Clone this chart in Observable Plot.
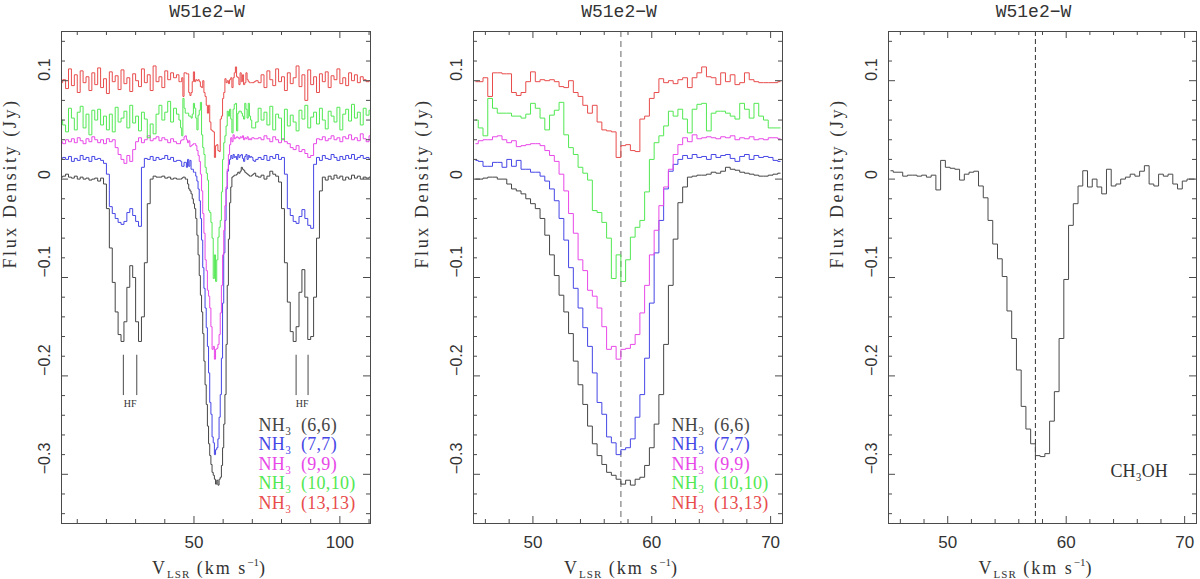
<!DOCTYPE html>
<html>
<head>
<meta charset="utf-8">
<script src="https://cdn.jsdelivr.net/npm/d3@7"></script>
<script src="https://cdn.jsdelivr.net/npm/@observablehq/plot@0.6"></script>
<style>
  body { margin: 0; background: #fff; }
  #wrap { position: relative; width: 1200px; height: 579px; overflow: hidden; background: #fff; }
  .panel { position: absolute; top: 0; }
  .xlab { position: absolute; top: 557px; font-family: "Liberation Serif", serif; font-size: 18px;
          letter-spacing: 2px; color: #333; white-space: nowrap; transform: translateX(-50%); line-height: 1; }
  .xlab sub { font-size: 11px; vertical-align: -4px; letter-spacing: 1px; }
  .xlab sup { font-size: 11px; vertical-align: 8px; letter-spacing: 0; }
</style>
</head>
<body>
<div id="wrap"></div>
<script>
// channel grids (km/s)
const fineStart = 45.2, fineStep = 0.4     // panels 2, 3 and the middle of panel 1
const wideLeftStart = 4.5, wideRightStart = 71.5, wideStep = 1

const lines = ["NH₃\u2002(6,6)", "NH₃\u2002(7,7)", "NH₃\u2002(9,9)", "NH₃\u2002(10,10)", "NH₃\u2002(13,13)"]
const colors = ["#454545", "#4646e6", "#e848e8", "#52e852", "#e84c4c"]

const yMajor = [-0.3, -0.2, -0.1, 0, 0.1]
const yMinor = [-0.34, -0.32, -0.28, -0.26, -0.24, -0.22, -0.18, -0.16, -0.14, -0.12,
                -0.08, -0.06, -0.04, -0.02, 0.02, 0.04, 0.06, 0.08, 0.12, 0.14]
const wideMajor = [50, 100]
const wideMinor = [10, 20, 30, 40, 60, 70, 80, 90, 110]
const zoomMajor = [50, 60, 70]
const zoomMinor = [46, 48, 52, 54, 56, 58, 62, 64, 66, 68]

const vSys = [57.4]                      // dashed line
const hfVel = [25.8, 30.4, 85.0, 89.1]   // hyperfine markers
const hfLabelVel = [28.1, 87.05]
const hfTop = -0.179, hfBottom = -0.22, hfLabelFlux = -0.228

// 0.4 km/s channels, 45.2 .. 70.8 km/s (65 channels)
const fine66 = [
  0.000, 0.000, 0.001, 0.002, 0.002, 0.000, 0.000, -0.005, -0.010, -0.012,
  -0.015, -0.020, -0.025, -0.030, -0.040, -0.057, -0.077, -0.098, -0.118, -0.135,
  -0.157, -0.185, -0.209, -0.229, -0.251, -0.269, -0.281, -0.290, -0.298, -0.301,
  -0.305, -0.310, -0.306, -0.311, -0.305, -0.303, -0.291, -0.273, -0.249, -0.219,
  -0.168, -0.108, -0.061, -0.024, -0.008, 0.002, 0.003, 0.004, 0.004, 0.005,
  0.007, 0.006, 0.008, 0.012, 0.010, 0.009, 0.007, 0.006, 0.005, 0.004,
  0.003, 0.003, 0.004, 0.005, 0.006]
const fine77 = [
  0.019, 0.018, 0.013, 0.013, 0.017, 0.017, 0.012, 0.020, 0.013, 0.019,
  0.010, 0.010, 0.007, 0.007, 0.003, -0.002, -0.010, -0.022, -0.040, -0.062,
  -0.090, -0.111, -0.131, -0.151, -0.170, -0.197, -0.227, -0.239, -0.262, -0.268,
  -0.280, -0.275, -0.273, -0.264, -0.242, -0.219, -0.182, -0.126, -0.075, -0.042,
  -0.010, 0.008, 0.015, 0.020, 0.024, 0.021, 0.025, 0.022, 0.023, 0.020,
  0.025, 0.022, 0.024, 0.025, 0.021, 0.018, 0.023, 0.025, 0.020, 0.024,
  0.022, 0.023, 0.022, 0.019, 0.018]
const fine99 = [
  0.036, 0.039, 0.040, 0.040, 0.043, 0.044, 0.040, 0.037, 0.039, 0.033,
  0.034, 0.035, 0.036, 0.036, 0.034, 0.029, 0.024, 0.018, 0.005, -0.012,
  -0.035, -0.055, -0.082, -0.093, -0.113, -0.119, -0.131, -0.150, -0.173, -0.170,
  -0.183, -0.173, -0.172, -0.168, -0.158, -0.136, -0.108, -0.077, -0.052, -0.027,
  -0.008, 0.010, 0.025, 0.035, 0.042, 0.038, 0.045, 0.041, 0.042, 0.043,
  0.042, 0.041, 0.043, 0.042, 0.044, 0.040, 0.042, 0.041, 0.043, 0.040,
  0.041, 0.040, 0.042, 0.042, 0.041]
const fine1010 = [
  0.060, 0.052, 0.044, 0.082, 0.072, 0.067, 0.067, 0.067, 0.064, 0.064,
  0.062, 0.066, 0.077, 0.072, 0.062, 0.050, 0.065, 0.070, 0.078, 0.045,
  0.032, 0.025, 0.012, 0.006, -0.001, -0.032, -0.034, -0.044, -0.060, -0.101,
  -0.077, -0.104, -0.082, -0.059, -0.049, -0.042, -0.013, 0.020, 0.037, 0.044,
  0.054, 0.069, 0.064, 0.071, 0.061, 0.047, 0.071, 0.076, 0.077, 0.049,
  0.067, 0.069, 0.069, 0.067, 0.064, 0.061, 0.077, 0.071, 0.062, 0.077,
  0.064, 0.060, 0.052, 0.052, 0.052]
const fine1313 = [
  0.099, 0.099, 0.103, 0.084, 0.108, 0.108, 0.107, 0.107, 0.088, 0.085,
  0.088, 0.099, 0.109, 0.099, 0.101, 0.100, 0.101, 0.099, 0.094, 0.093,
  0.100, 0.088, 0.084, 0.075, 0.067, 0.075, 0.058, 0.050, 0.049, 0.048,
  0.022, 0.034, 0.035, 0.029, 0.028, 0.061, 0.064, 0.082, 0.088, 0.102,
  0.098, 0.100, 0.097, 0.101, 0.103, 0.093, 0.103, 0.108, 0.114, 0.104,
  0.103, 0.096, 0.108, 0.099, 0.106, 0.096, 0.098, 0.108, 0.101, 0.099,
  0.098, 0.098, 0.098, 0.098, 0.099]
const fineCH3OH = [
  0.0085, 0.007, 0.007, 0.003, 0.004, 0.004, 0.003, 0.004, 0.002, 0.004,
  -0.011, 0.019, 0.012, 0.011, 0.010, -0.001, 0.005, 0.007, 0.008, -0.007,
  -0.019, -0.042, -0.066, -0.081, -0.099, -0.134, -0.162, -0.194, -0.231, -0.254,
  -0.269, -0.281, -0.282, -0.279, -0.246, -0.216, -0.162, -0.102, -0.047, -0.025,
  -0.007, 0.0085, -0.008, 0.000, -0.008, -0.015, 0.010, -0.007, -0.005, 0.000,
  0.002, 0.005, 0.003, 0.008, 0.0136, -0.005, -0.007, 0.005, 0.003, 0.005,
  -0.005, -0.010, -0.002, 0.000, 0.000]

// 1 km/s channels, 4.5 .. 44.5 km/s (41 channels)
const wideL66 = [
  0.002, 0.003, 0.005, 0.002, 0.001, 0.003, 0.000, 0.002, 0.000, 0.001,
  -0.001, 0.000, 0.001, -0.002, 0.001, -0.005, -0.030, -0.070, -0.105, -0.135,
  -0.158, -0.165, -0.145, -0.110, -0.088, -0.100, -0.145, -0.165, -0.140, -0.085,
  -0.025, 0.000, 0.003, 0.002, 0.002, 0.003, 0.001, 0.002, 0.000, 0.001,
  0.000]
const wideL77 = [
  0.021, 0.022, 0.020, 0.023, 0.018, 0.021, 0.019, 0.024, 0.020, 0.022,
  0.018, 0.023, 0.020, 0.021, 0.019, 0.016, 0.005, -0.028, -0.035, -0.040,
  -0.044, -0.046, -0.043, -0.034, -0.030, -0.037, -0.043, -0.048, 0.012, 0.021,
  0.020, 0.023, 0.019, 0.022, 0.020, 0.021, 0.024, 0.020, 0.022, 0.018,
  0.019]
const wideL99 = [
  0.038, 0.036, 0.040, 0.038, 0.041, 0.037, 0.042, 0.039, 0.036, 0.041,
  0.038, 0.043, 0.040, 0.037, 0.040, 0.036, 0.041, 0.038, 0.040, 0.032,
  0.025, 0.020, 0.016, 0.024, 0.018, 0.030, 0.038, 0.042, 0.037, 0.040,
  0.044, 0.039, 0.041, 0.043, 0.039, 0.042, 0.040, 0.037, 0.041, 0.038,
  0.036]
const wideL1010 = [
  0.060, 0.055, 0.048, 0.072, 0.062, 0.050, 0.068, 0.074, 0.052, 0.066,
  0.045, 0.070, 0.060, 0.071, 0.055, 0.064, 0.050, 0.066, 0.048, 0.073,
  0.058, 0.062, 0.069, 0.052, 0.075, 0.057, 0.064, 0.049, 0.068, 0.061,
  0.042, 0.056, 0.046, 0.066, 0.075, 0.060, 0.068, 0.079, 0.058, 0.072,
  0.066]
const wideL1313 = [
  0.098, 0.101, 0.092, 0.112, 0.095, 0.106, 0.088, 0.110, 0.098, 0.104,
  0.090, 0.108, 0.096, 0.113, 0.093, 0.102, 0.087, 0.109, 0.099, 0.105,
  0.091, 0.111, 0.097, 0.103, 0.089, 0.107, 0.100, 0.094, 0.112, 0.098,
  0.106, 0.090, 0.115, 0.099, 0.104, 0.093, 0.110, 0.101, 0.108, 0.103,
  0.106]

// 1 km/s channels, 71.5 .. 110.5 km/s (40 channels)
const wideR66 = [
  0.003, 0.002, 0.004, 0.000, 0.003, 0.008, 0.005, 0.003, -0.003, -0.030,
  -0.085, -0.125, -0.155, -0.165, -0.150, -0.115, -0.092, -0.120, -0.163, -0.160,
  -0.120, -0.060, -0.012, 0.002, -0.001, 0.003, 0.000, 0.004, 0.001, 0.003,
  -0.001, 0.002, 0.000, 0.004, 0.001, 0.003, 0.000, 0.002, 0.001, 0.002]
const wideR77 = [
  0.020, 0.022, 0.020, 0.024, 0.019, 0.023, 0.021, 0.025, 0.020, 0.022,
  0.005, -0.030, -0.037, -0.043, -0.045, -0.038, -0.031, -0.040, -0.047, -0.050,
  0.015, 0.022, 0.019, 0.024, 0.021, 0.020, 0.025, 0.022, 0.019, 0.023,
  0.020, 0.024, 0.021, 0.025, 0.020, 0.022, 0.024, 0.021, 0.022, 0.020]
const wideR99 = [
  0.041, 0.042, 0.040, 0.044, 0.041, 0.038, 0.043, 0.040, 0.037, 0.041,
  0.038, 0.036, 0.032, 0.030, 0.034, 0.028, 0.030, 0.026, 0.022, 0.024,
  0.036, 0.041, 0.040, 0.043, 0.039, 0.041, 0.044, 0.040, 0.042, 0.038,
  0.043, 0.041, 0.045, 0.040, 0.042, 0.039, 0.046, 0.041, 0.038, 0.044]
const wideR1010 = [
  0.058, 0.072, 0.060, 0.068, 0.055, 0.074, 0.050, 0.066, 0.062, 0.040,
  0.071, 0.054, 0.065, 0.058, 0.049, 0.070, 0.061, 0.075, 0.052, 0.063,
  0.068, 0.056, 0.072, 0.060, 0.051, 0.069, 0.064, 0.058, 0.073, 0.050,
  0.066, 0.071, 0.059, 0.076, 0.062, 0.068, 0.055, 0.072, 0.065, 0.070]
const wideR1313 = [
  0.100, 0.098, 0.106, 0.093, 0.110, 0.101, 0.095, 0.112, 0.099, 0.104,
  0.090, 0.108, 0.097, 0.103, 0.115, 0.094, 0.106, 0.080, 0.111, 0.096,
  0.104, 0.088, 0.107, 0.099, 0.109, 0.093, 0.105, 0.101, 0.112, 0.097,
  0.103, 0.095, 0.108, 0.100, 0.106, 0.098, 0.104, 0.101, 0.099, 0.100]

const fineSeries = [fine66, fine77, fine99, fine1010, fine1313]
const wideLSeries = [wideL66, wideL77, wideL99, wideL1010, wideL1313]
const wideRSeries = [wideR66, wideR77, wideR99, wideR1010, wideR1313]

// rows for the plots
const toRows = (vals, start, step, name) => vals.map((f, i) => ({v: start + i * step, f, name}))

const zoomRows = lines.flatMap((name, j) => toRows(fineSeries[j], fineStart, fineStep, name))
const wideRows = lines.flatMap((name, j) => [
  ...toRows(wideLSeries[j], wideLeftStart, wideStep, name),
  ...toRows(fineSeries[j], fineStart, fineStep, name),
  ...toRows(wideRSeries[j], wideRightStart, wideStep, name)
])
const ch3ohRows = toRows(fineCH3OH, fineStart, fineStep, "CH₃OH")

const ink = "#4a4a4a"
const H = 579, mTop = 31, mBottom = 56
const fmtY = d => d < 0 ? "−" + Math.abs(d) : String(d)

function panel({width, marginLeft, marginRight, xDomain, xMajor, xMinor, marks}) {
  const fw = width - marginLeft - marginRight
  const fh = H - mTop - mBottom
  return Plot.plot({
    width, height: H, marginLeft, marginRight, marginTop: mTop, marginBottom: mBottom,
    x: {domain: xDomain, axis: null},
    y: {domain: [-0.35, 0.15], axis: null},
    color: {domain: [...lines, "CH₃OH"], range: [...colors, ink]},
    style: {fontFamily: "'Liberation Sans', sans-serif", fontSize: "16px", color: "#333", background: "transparent", overflow: "visible"},
    marks: [
      ...marks,
      Plot.frame({stroke: ink}),
      // ticks point inward on all four sides
      Plot.tickY(yMajor, {y: d => d, insetRight: fw - 7, stroke: ink}),
      Plot.tickY(yMajor, {y: d => d, insetLeft: fw - 7, stroke: ink}),
      Plot.tickY(yMinor, {y: d => d, insetRight: fw - 4, stroke: ink}),
      Plot.tickY(yMinor, {y: d => d, insetLeft: fw - 4, stroke: ink}),
      Plot.tickX(xMajor, {x: d => d, insetTop: fh - 7, stroke: ink}),
      Plot.tickX(xMajor, {x: d => d, insetBottom: fh - 7, stroke: ink}),
      Plot.tickX(xMinor, {x: d => d, insetTop: fh - 4, stroke: ink}),
      Plot.tickX(xMinor, {x: d => d, insetBottom: fh - 4, stroke: ink}),
      Plot.text(yMajor, {y: d => d, text: fmtY, frameAnchor: "left", rotate: -90, dx: -17, fontSize: 16, fill: "#333"}),
      Plot.text(xMajor, {x: d => d, text: d => String(d), frameAnchor: "bottom", dy: 24, fontSize: 17, fill: "#333"}),
      Plot.text(["W51e2−W"], {frameAnchor: "top", dy: -27, dx: -9, fontSize: 18, fontFamily: "'Liberation Mono', monospace", fill: "#333"}),
      Plot.text(["Flux Density (Jy)"], {frameAnchor: "left", rotate: -90, dx: -51, dy: -9, fontSize: 18, fontFamily: "'Liberation Serif', serif", fill: "#333"})
    ]
  })
}

const legend = dx => lines.map((t, i) => Plot.text([t], {
  frameAnchor: "bottom-right", textAnchor: "start", dx, dy: -15 - 19.5 * (4 - i),
  fontSize: 18, fontFamily: "'Liberation Serif', serif", fill: colors[i]
}))

const p1 = panel({
  width: 390, marginLeft: 61, marginRight: 20,
  xDomain: [4.6, 110.5], xMajor: wideMajor, xMinor: wideMinor,
  marks: [
    Plot.line(wideRows, {x: "v", y: "f", z: "name", stroke: "name", curve: "step", strokeWidth: 1, clip: true}),
    Plot.ruleX(hfVel, {x: d => d, y1: hfTop, y2: hfBottom, stroke: ink}),
    Plot.text(hfLabelVel, {x: d => d, y: hfLabelFlux, text: () => "HF", fontSize: 10, fontFamily: "'Liberation Serif', serif", fill: "#333"}),
    ...legend(-112)
  ]
})

const p2 = panel({
  width: 392, marginLeft: 63, marginRight: 20,
  xDomain: [45, 71], xMajor: zoomMajor, xMinor: zoomMinor,
  marks: [
    Plot.ruleX(vSys, {x: d => d, stroke: "#999", strokeWidth: 1.5, strokeDasharray: "6,4"}),
    Plot.line(zoomRows, {x: "v", y: "f", z: "name", stroke: "name", curve: "step", strokeWidth: 1, clip: true}),
    ...legend(-111)
  ]
})

const p3 = panel({
  width: 375, marginLeft: 63, marginRight: 4,
  xDomain: [45, 71], xMajor: zoomMajor, xMinor: zoomMinor,
  marks: [
    Plot.ruleX(vSys, {x: d => d, stroke: "#333", strokeDasharray: "5,3"}),
    Plot.line(ch3ohRows, {x: "v", y: "f", stroke: "name", curve: "step", strokeWidth: 1, clip: true}),
    Plot.text(["CH₃OH"], {frameAnchor: "bottom-right", textAnchor: "start", dx: -86, dy: -47, fontSize: 18, fontFamily: "'Liberation Serif', serif", fill: "#333"})
  ]
})

const wrap = d3.select("#wrap")
const placed = [[p1, 0, 61 + 309 / 2], [p2, 410, 473 + 309 / 2], [p3, 825, 888 + 308 / 2]]
placed.forEach(([svg, left, mid]) => {
  d3.select(svg).attr("class", "panel").style("left", left + "px")
  d3.select(svg).selectAll("text")
    .filter(function () { return this.textContent === "Flux Density (Jy)" })
    .attr("letter-spacing", "2.6px")
  d3.select(svg).selectAll("text")
    .filter(function () { return this.textContent.startsWith("NH") })
    .attr("letter-spacing", "0.3px")
  wrap.append(() => svg)
  wrap.append("div").attr("class", "xlab").style("left", (mid - 6) + "px")
    .html("V<sub>LSR</sub> (km s<sup>−1</sup>)")
})
</script>
</body>
</html>
